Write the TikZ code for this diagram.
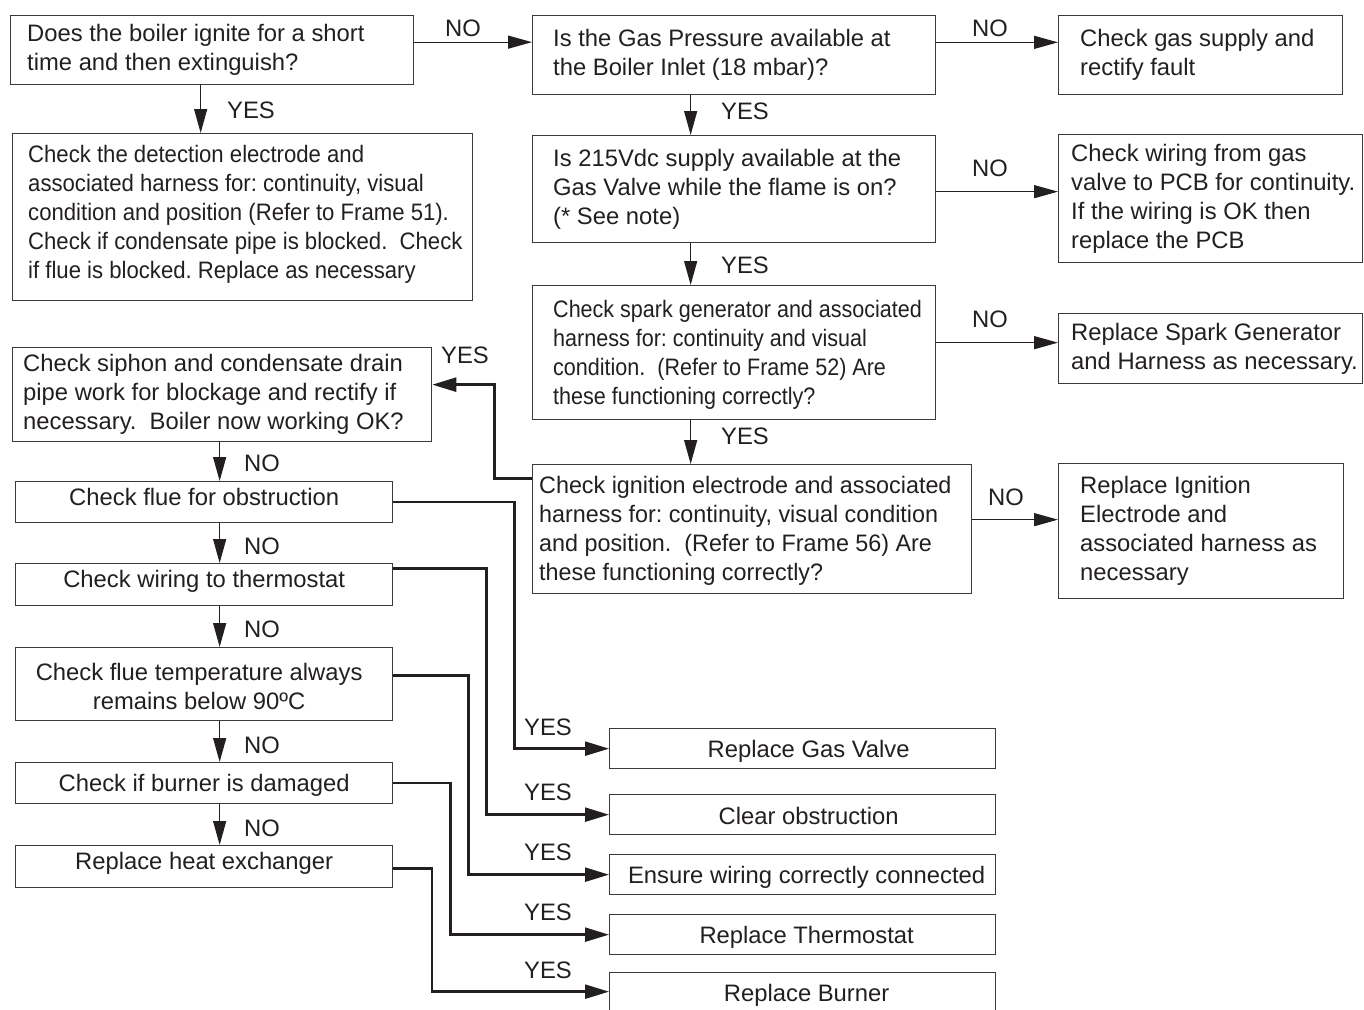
\documentclass[tikz,border=0pt]{standalone}
\usepackage{fontspec}
\setmainfont{Liberation Sans}
\newfontfamily\sqA[FakeStretch=0.93]{Liberation Sans}
\newfontfamily\sqB[FakeStretch=0.905]{Liberation Sans}
\newfontfamily\sqC[FakeStretch=0.98]{Liberation Sans}
\usetikzlibrary{arrows.meta}
\definecolor{txtc}{HTML}{231F20}
\definecolor{boxc}{HTML}{3A3A3A}
\tikzset{
  box/.style={draw=boxc, line width=1.3pt, rectangle, inner sep=0pt, anchor=north west},
  txt/.style={align=left, inner sep=0pt, anchor=west, text=txtc},
  ctxt/.style={align=center, inner sep=0pt, text=txtc},
  flow/.style={draw=txtc, line width=1.3pt, -{Triangle[length=24pt,width=13pt]}},
  link/.style={draw=txtc, line width=2.4pt, -{Triangle[length=24pt,width=14pt]}},
  lab/.style={inner sep=0pt, text=txtc},
  every node/.style={font=\frenchspacing\fontsize{23.8pt}{29pt}\selectfont},
}
\begin{document}
\begin{tikzpicture}[x=1pt,y=-1pt]
\useasboundingbox (0,0) rectangle (1364,1009);
\clip (0,0) rectangle (1364,1009);
% boxes
\node[box, minimum width=403pt, minimum height=69pt] (B1) at (10,15) {};
\node[txt] (T1) at ([xshift=17pt]B1.west) {Does the boiler ignite for a short\\time and then extinguish?};
\node[box, minimum width=403pt, minimum height=79pt] (B2) at (532,15) {};
\node[txt] (T2) at ([xshift=21pt]B2.west) {Is the Gas Pressure available at\\the Boiler Inlet (18 mbar)?};
\node[box, minimum width=284pt, minimum height=79pt] (B3) at (1058,15) {};
\node[txt] (T3) at ([xshift=22pt]B3.west) {Check gas supply and\\rectify fault};
\node[box, minimum width=460pt, minimum height=167pt] (B4) at (12,133) {};
\node[txt, font=\frenchspacing\sqA\fontsize{23.8pt}{29pt}\selectfont] (T4) at ([xshift=16pt,yshift=2.5pt]B4.west) {Check the detection electrode and\\associated harness for: continuity, visual\\condition and position (Refer to Frame 51).\\Check if condensate pipe is blocked.\ \ Check\\if flue is blocked. Replace as necessary};
\node[box, minimum width=403pt, minimum height=107pt] (B5) at (532,135) {};
\node[txt] (T5) at ([xshift=21pt]B5.west) {Is 215Vdc supply available at the\\Gas Valve while the flame is on?\\(* See note)};
\node[box, minimum width=304pt, minimum height=128pt] (B6) at (1058,134) {};
\node[txt] (T6) at ([xshift=13pt]B6.west) {Check wiring from gas\\valve to PCB for continuity.\\If the wiring is OK then\\replace the PCB};
\node[box, minimum width=403pt, minimum height=134pt] (B7) at (532,285) {};
\node[txt, font=\frenchspacing\sqB\fontsize{23.8pt}{29pt}\selectfont] (T7) at ([xshift=21pt,yshift=-2.5pt]B7.west) {Check spark generator and associated\\harness for: continuity and visual\\condition.\ \ (Refer to Frame 52) Are\\these functioning correctly?};
\node[box, minimum width=304pt, minimum height=70pt] (B8) at (1058,313) {};
\node[txt] (T8) at ([xshift=13pt]B8.west) {Replace Spark Generator\\and Harness as necessary.};
\node[box, minimum width=439pt, minimum height=129pt] (B9) at (532,464) {};
\node[txt, font=\frenchspacing\sqC\fontsize{23.8pt}{29pt}\selectfont] (T9) at ([xshift=7pt,yshift=-1.5pt]B9.west) {Check ignition electrode and associated\\harness for: continuity, visual condition\\and position.\ \ (Refer to Frame 56) Are\\these functioning correctly?};
\node[box, minimum width=285pt, minimum height=135pt] (B10) at (1058,463) {};
\node[txt] (T10) at ([xshift=22pt]B10.west) {Replace Ignition\\Electrode and\\associated harness as\\necessary};
\node[box, minimum width=419pt, minimum height=94pt] (B11) at (12,347) {};
\node[txt] (T11) at ([xshift=11pt]B11.west) {Check siphon and condensate drain\\pipe work for blockage and rectify if\\necessary.\ \ Boiler now working OK?};
\node[box, minimum width=377pt, minimum height=41pt] (B12) at (15,481) {};
\node[ctxt] (T12) at ([yshift=5pt]B12.center) {Check flue for obstruction};
\node[box, minimum width=377pt, minimum height=42pt] (B13) at (15,563) {};
\node[ctxt] (T13) at ([yshift=3pt]B13.center) {Check wiring to thermostat};
\node[box, minimum width=377pt, minimum height=73pt] (B14) at (15,647) {};
\node[ctxt] (T14) at ([xshift=-5pt,yshift=-2.5pt]B14.center) {Check flue temperature always\\remains below 90ºC};
\node[box, minimum width=377pt, minimum height=41pt] (B15) at (15,762) {};
\node[ctxt] (T15) at ([yshift=-2pt]B15.center) {Check if burner is damaged};
\node[box, minimum width=377pt, minimum height=42pt] (B16) at (15,845) {};
\node[ctxt] (T16) at ([yshift=3pt]B16.center) {Replace heat exchanger};
\node[box, minimum width=386pt, minimum height=40pt] (R1) at (609,728) {};
\node[ctxt] (U1) at ([xshift=6pt,yshift=-3pt]R1.center) {Replace Gas Valve};
\node[box, minimum width=386pt, minimum height=40pt] (R2) at (609,794) {};
\node[ctxt] (U2) at ([xshift=6pt,yshift=-1pt]R2.center) {Clear obstruction};
\node[box, minimum width=386pt, minimum height=40pt] (R3) at (609,854) {};
\node[ctxt] (U3) at ([xshift=4pt,yshift=-3pt]R3.center) {Ensure wiring correctly connected};
\node[box, minimum width=386pt, minimum height=40pt] (R4) at (609,914) {};
\node[ctxt] (U4) at ([xshift=4pt,yshift=-3pt]R4.center) {Replace Thermostat};
\node[box, minimum width=386pt, minimum height=40pt] (R5) at (609,972) {};
\node[ctxt] (U5) at ([xshift=4pt,yshift=-3pt]R5.center) {Replace Burner};
% main flow connectors
\coordinate (a1) at ([yshift=8pt]B1.east);
\draw[flow] (a1) -- (a1 -| B2.west);
\coordinate (a2) at ([yshift=12.8pt]B2.east);
\draw[flow] (a2) -- (a2 -| B3.west);
\coordinate (a3) at ([xshift=-11.5pt]B1.south);
\draw[flow] (a3) -- (a3 |- B4.north);
\coordinate (vr) at ([xshift=-43.5pt]B2.south);
\draw[flow] (vr) -- (vr |- B5.north);
\draw[flow] (vr |- B5.south) -- (vr |- B7.north);
\draw[flow] (vr |- B7.south) -- (vr |- B9.north);
\coordinate (a5) at ([yshift=-2.5pt]B5.east);
\draw[flow] (a5) -- (a5 -| B6.west);
\coordinate (a7) at ([yshift=10pt]B7.east);
\draw[flow] (a7) -- (a7 -| B8.west);
\coordinate (a9) at ([yshift=9.5pt]B9.east);
\draw[flow] (a9) -- (a9 -| B10.west);
\coordinate (s9) at ([yshift=50.5pt]B9.west);
\coordinate (t11) at ([yshift=10pt]B11.east);
\draw[link] (s9) -- ++(-37.5,0) |- (t11);
\coordinate (vl) at ([xshift=-2.5pt]B11.south);
\draw[flow] (vl) -- (vl |- B12.north);
\draw[flow] (vl |- B12.south) -- (vl |- B13.north);
\draw[flow] (vl |- B13.south) -- (vl |- B14.north);
\draw[flow] (vl |- B14.south) -- (vl |- B15.north);
\draw[flow] (vl |- B15.south) -- (vl |- B16.north);
% links to remedies
\draw[link] (B12.east) -- ++(121,0) |- (R1.west);
\coordinate (e13) at ([yshift=16pt]B13.east);
\draw[link] (e13) -- ++(93,0) |- (R2.west);
\coordinate (e14) at ([yshift=8.5pt]B14.east);
\draw[link] (e14) -- ++(75,0) |- (R3.west);
\draw[link] (B15.east) -- ++(57,0) |- (R4.west);
\coordinate (e16) at ([yshift=-2pt]B16.east);
\draw[link] (e16) -- ++(38.5,0) |- ([yshift=1pt]R5.west);
% labels
\node[lab] (L1) at (463,28) {NO};
\node[lab] (L2) at (990,28) {NO};
\node[lab] (L3) at (251,110) {YES};
\node[lab] (L4) at (745,111) {YES};
\node[lab] (L5) at (990,168) {NO};
\node[lab] (L6) at (745,265) {YES};
\node[lab] (L7) at (990,319) {NO};
\node[lab] (L8) at (745,436) {YES};
\node[lab] (L9) at (1006,497) {NO};
\node[lab] (L10) at (465,355) {YES};
\node[lab] (L11) at (262,463) {NO};
\node[lab] (L12) at (262,546) {NO};
\node[lab] (L13) at (262,629) {NO};
\node[lab] (L14) at (262,745) {NO};
\node[lab] (L15) at (262,828) {NO};
\node[lab] (L16) at (548,727) {YES};
\node[lab] (L17) at (548,792) {YES};
\node[lab] (L18) at (548,852) {YES};
\node[lab] (L19) at (548,912) {YES};
\node[lab] (L20) at (548,970) {YES};
\end{tikzpicture}
\end{document}
